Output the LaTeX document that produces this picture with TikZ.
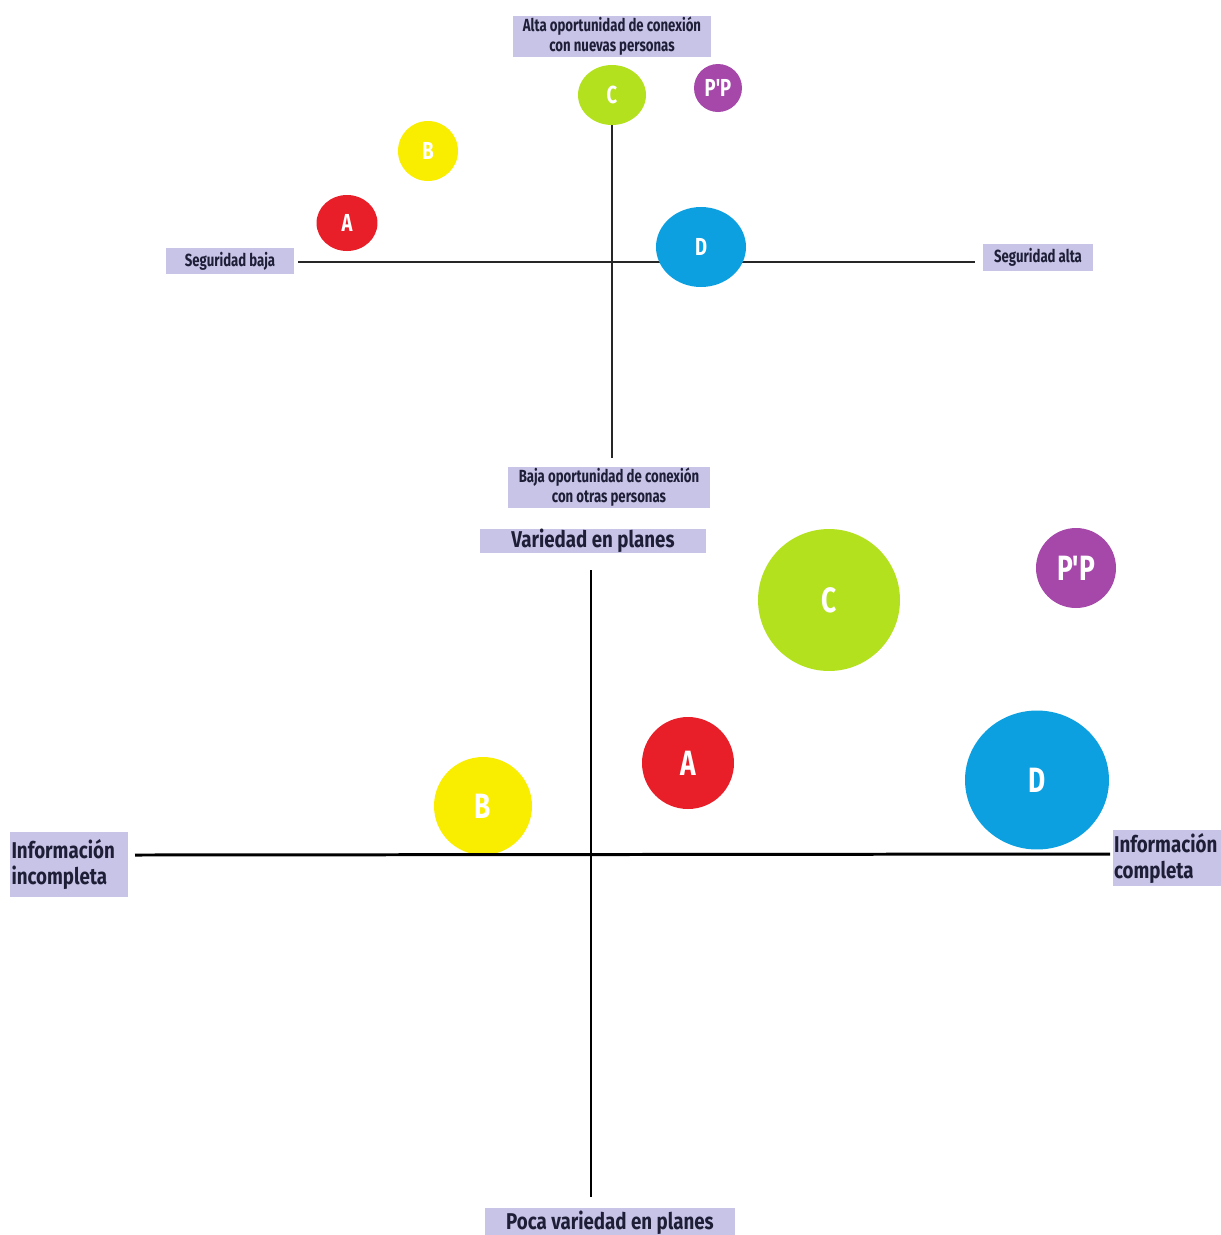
\documentclass[tikz,border=0pt]{standalone}
\usepackage{fontspec}
\newfontfamily\condfont[FakeStretch=0.75]{Fira Sans}
\newfontfamily\dinfont[FakeStretch=0.82]{Fira Sans}
\usetikzlibrary{shapes.geometric}
\definecolor{lav}{RGB}{200,196,232}
\definecolor{ink}{RGB}{30,30,55}
\definecolor{mapred}{RGB}{232,30,40}
\definecolor{mapyellow}{RGB}{250,238,0}
\definecolor{mapgreen}{RGB}{180,225,30}
\definecolor{mappurple}{RGB}{165,72,170}
\definecolor{mapblue}{RGB}{12,160,225}

\begin{document}
\begin{tikzpicture}[x=0.02cm, y=-0.02cm,
  tag/.style={fill=lav, inner sep=0pt, align=center, text=ink},
  toptag/.style={tag, font=\condfont\bfseries\fontsize{10}{11.5}\selectfont},
  bigtag/.style={tag, font=\dinfont\bfseries\fontsize{13}{14.8}\selectfont},
  dot/.style={ellipse, inner sep=0pt, text=white},
  smalldot/.style={dot, font=\condfont\bfseries\fontsize{14}{14}\selectfont},
  bigdot/.style={dot, font=\condfont\bfseries\fontsize{20}{20}\selectfont},
  thinaxis/.style={line width=0.8pt, black!85},
  thickaxis/.style={line width=1.7pt, black}]
  \fill[white] (0,0) rectangle (1221,1235);
  \useasboundingbox (0,0) rectangle (1221,1235);

  % seguridad / oportunidad de conexion
  \node[toptag, minimum width=3.98cm, minimum height=0.82cm] (alta) at (612,36) {Alta oportunidad de conexión\\con nuevas personas};
  \node[toptag, minimum width=4.04cm, minimum height=0.82cm] (baja) at (609,487) {Baja oportunidad de conexión\\con otras personas};
  \node[toptag, minimum width=2.58cm, minimum height=0.52cm] (segbaja) at (230,261) {Seguridad baja};
  \node[toptag, minimum width=2.22cm, minimum height=0.54cm] (segalta) at (1038,257) {Seguridad alta};
  \coordinate (h1) at (298,262);
  \coordinate (h2) at (975,262);
  \coordinate (v1) at (612,120);
  \coordinate (v2) at (612,458);
  \draw[thinaxis] (h1) -- (h2);
  \draw[thinaxis] (v1) -- (v2);
  \node[smalldot, fill=mapgreen, minimum width=1.36cm, minimum height=1.2cm] (c1) at (612,95) {C};
  \node[smalldot, fill=mappurple, minimum size=0.96cm] (p1) at (718,88) {P'P};
  \node[smalldot, fill=mapyellow, minimum size=1.2cm] (b1) at (428,151) {B};
  \node[smalldot, fill=mapred, minimum width=1.22cm, minimum height=1.12cm] (a1) at (347,223) {A};
  \node[smalldot, fill=mapblue, minimum width=1.8cm, minimum height=1.6cm] (d1) at (701,247) {D};

  % informacion / variedad
  \node[bigtag, minimum width=4.54cm, minimum height=0.46cm] (var) at (593,541) {Variedad en planes};
  \node[bigtag, minimum width=5cm, minimum height=0.6cm] (poca) at (610,1223) {Poca variedad en planes};
  \node[bigtag, align=left, minimum width=2.36cm, minimum height=1.3cm, text width=2.3cm] (incomp) at (69,864) {Información\\incompleta};
  \node[bigtag, align=left, minimum width=2.16cm, minimum height=1.12cm, text width=2.12cm] (comp) at (1167,858) {Información\\completa};
  \node[bigdot, fill=mapgreen, minimum size=2.84cm] (c2) at (829,600) {C};
  \node[bigdot, fill=mappurple, minimum size=1.6cm] (p2) at (1076,568) {P'P};
  \node[bigdot, fill=mapred, minimum size=1.84cm] (a2) at (688,763) {A};
  \node[bigdot, fill=mapyellow, minimum size=1.96cm] (b2) at (483,806) {B};
  \node[bigdot, fill=mapblue, minimum width=2.88cm, minimum height=2.78cm] (d2) at (1037,780) {D};
  \coordinate (x1) at (135,855);
  \coordinate (x2) at (1110,854);
  \coordinate (y1) at (591,570);
  \coordinate (y2) at (591,1197);
  \draw[thickaxis] (x1) -- (x2);
  \draw[thickaxis] (y1) -- (y2);
\end{tikzpicture}
\end{document}
